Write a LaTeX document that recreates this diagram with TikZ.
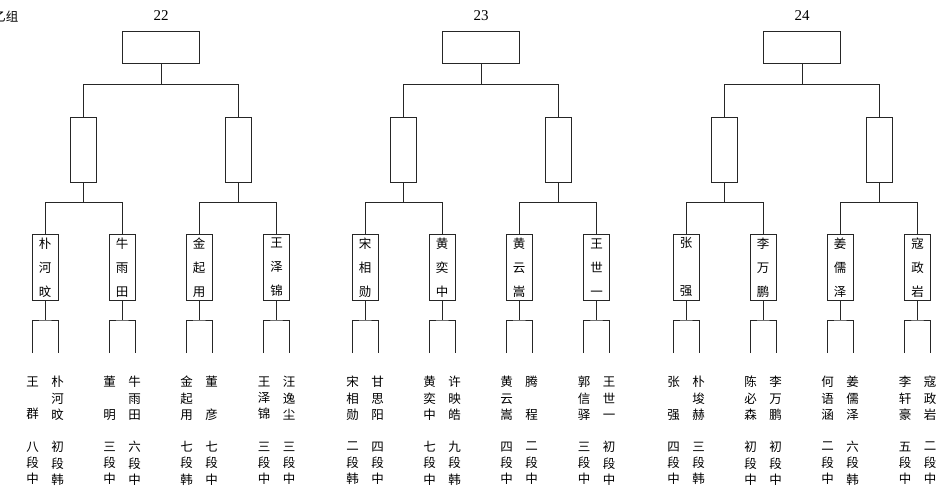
\documentclass[tikz,border=0pt]{standalone}
\usepackage{fontspec}
\setmainfont{Liberation Serif}
\newfontfamily\cjk{Noto Sans CJK SC}

\begin{document}
\begin{tikzpicture}[x=1pt,y=-1pt,line width=1pt,draw=black!85,
  final/.style={draw,minimum width=77pt,minimum height=32pt,inner sep=0pt},
  semi/.style={draw,minimum width=26pt,minimum height=65pt,inner sep=0pt},
  leaf/.style={draw,minimum width=26pt,minimum height=66pt,inner sep=0pt,
    align=center,font=\cjk\fontsize{12.5}{24}\selectfont},
  player/.style={inner sep=0pt,align=center,font=\cjk\fontsize{12.5}{16.3}\selectfont},
  roundno/.style={inner sep=0pt,anchor=base,font=\fontsize{15}{15}\selectfont}]

% Page size
\useasboundingbox (0,0) rectangle (950,495);

% Group title (cut at the left edge)
\node[player,anchor=east] (grp) at (19,17) {乙组};

% Finals, semi-finals and their joins
\foreach \g/\dx/\num in {a/0/22,b/320/23,c/641/24}{
  \node[roundno] (no\g) at (161+\dx,20.7) {\num};
  \node[final] (final\g) at (161+\dx,48) {};
  \node[semi] (semi\g1) at (83.5+\dx,149.8) {};
  \node[semi] (semi\g2) at (238+\dx,149.8) {};
  \coordinate (top\g) at (161+\dx,84.7);
  \draw (final\g) -- (top\g);
  \draw (semi\g1) |- (top\g) -| (semi\g2);
  % Joins under the semi-finals
  \coordinate (join\g1) at (83.5+\dx,202.3);
  \coordinate (join\g2) at (238+\dx,202.3);
  \draw (semi\g1) -- (join\g1);
  \draw (semi\g2) -- (join\g2);
}

% First round: box, fork and the two players with their ranks
\foreach \x/\w/\pa/\ra/\pb/\rb [count=\i] in {
  45/{朴\\河\\旼}/{王\\~\\群}/{八\\段\\中}/{朴\\河\\旼}/{初\\段\\韩},
  122/{牛\\雨\\田}/{董\\~\\明}/{三\\段\\中}/{牛\\雨\\田}/{六\\段\\中},
  199/{金\\起\\用}/{金\\起\\用}/{七\\段\\韩}/{董\\~\\彦}/{七\\段\\中},
  276.5/{王\\泽\\锦}/{王\\泽\\锦}/{三\\段\\中}/{汪\\逸\\尘}/{三\\段\\中},
  365/{宋\\相\\勋}/{宋\\相\\勋}/{二\\段\\韩}/{甘\\思\\阳}/{四\\段\\中},
  442/{黄\\奕\\中}/{黄\\奕\\中}/{七\\段\\中}/{许\\映\\皓}/{九\\段\\韩},
  519/{黄\\云\\嵩}/{黄\\云\\嵩}/{四\\段\\中}/{腾\\~\\程}/{二\\段\\中},
  596.5/{王\\世\\一}/{郭\\信\\驿}/{三\\段\\中}/{王\\世\\一}/{初\\段\\中},
  686/{张\\~\\强}/{张\\~\\强}/{四\\段\\中}/{朴\\埈\\赫}/{三\\段\\韩},
  763/{李\\万\\鹏}/{陈\\必\\森}/{初\\段\\中}/{李\\万\\鹏}/{初\\段\\中},
  840/{姜\\儒\\泽}/{何\\语\\涵}/{二\\段\\中}/{姜\\儒\\泽}/{六\\段\\韩},
  917.5/{寇\\政\\岩}/{李\\轩\\豪}/{五\\段\\中}/{寇\\政\\岩}/{二\\段\\中}}{
  \node[leaf] (leaf\i) at (\x,267.3) {\w};
  \coordinate (fork\i) at (\x,320);
  \coordinate (armL\i) at (\x-13,353);
  \coordinate (armR\i) at (\x+13,353);
  \draw (leaf\i) -- (fork\i);
  \draw (armL\i) |- (fork\i) -| (armR\i);
  \node[player] (nameL\i) at (\x-12.5,398.3) {\pa};
  \node[player] (nameR\i) at (\x+12.5,398.3) {\pb};
  \node[player] (rankL\i) at (\x-12.5,463.3) {\ra};
  \node[player] (rankR\i) at (\x+12.5,463.3) {\rb};
}

% Leaves up to the semi-final joins
\foreach \j/\p/\q in {a1/1/2,a2/3/4,b1/5/6,b2/7/8,c1/9/10,c2/11/12}{
  \draw (leaf\p) |- (join\j) -| (leaf\q);
}

\end{tikzpicture}
\end{document}
